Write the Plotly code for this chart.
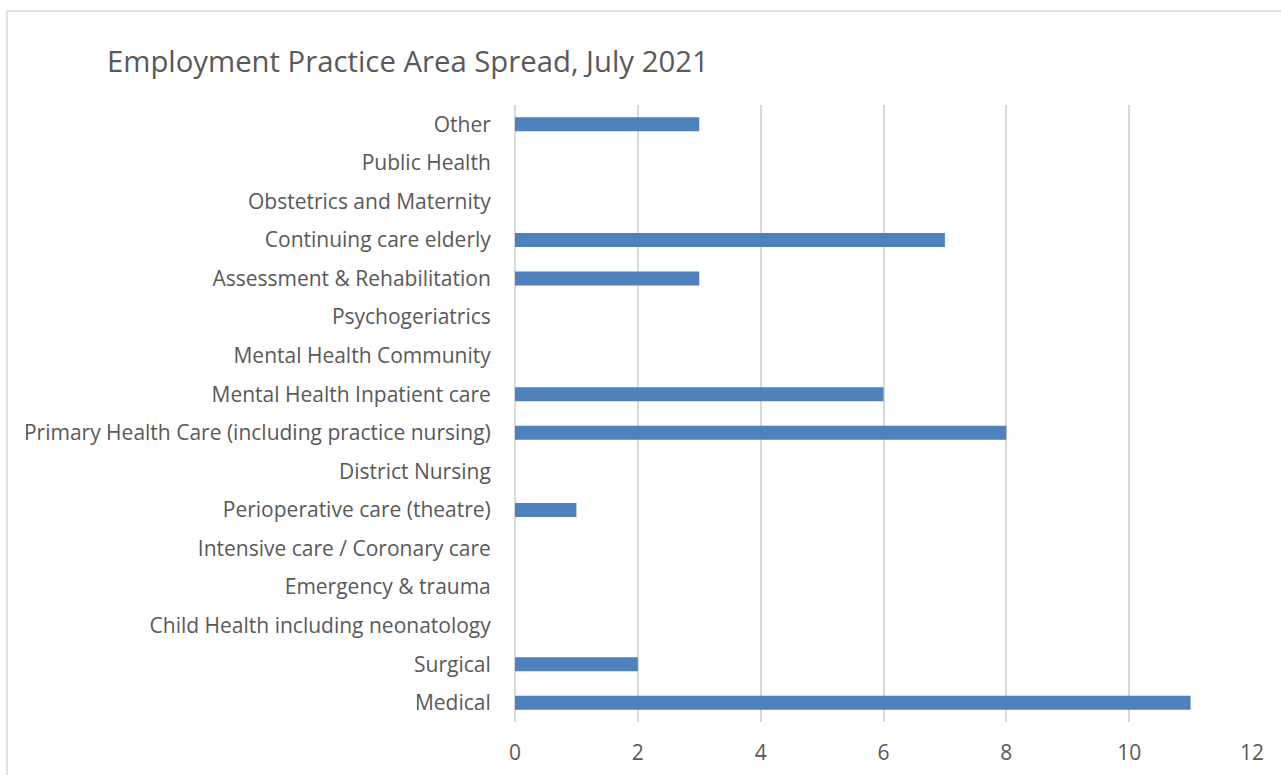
import plotly.graph_objects as go

categories = [
    "Medical",
    "Surgical",
    "Child Health including neonatology",
    "Emergency & trauma",
    "Intensive care / Coronary care",
    "Perioperative care (theatre)",
    "District Nursing",
    "Primary Health Care (including practice nursing)",
    "Mental Health Inpatient care",
    "Mental Health Community",
    "Psychogeriatrics",
    "Assessment & Rehabilitation",
    "Continuing care elderly",
    "Obstetrics and Maternity",
    "Public Health",
    "Other",
]
values = [11, 2, 0, 0, 0, 1, 0, 8, 6, 0, 0, 3, 7, 0, 0, 3]
x_ticks = [0, 2, 4, 6, 8, 10, 12]
title_text = "Employment Practice Area Spread, July 2021"

W, H = 1281, 775
L, R, T, B = 515, 29, 105, 53
pw, ph = W - L - R, H - T - B

FONT = "Open Sans"
GRAY = "#595959"
GRID = "#D9D9D9"

fig = go.Figure(
    go.Bar(
        x=values,
        y=categories,
        orientation="h",
        marker=dict(color="#4F81BD", line=dict(width=0)),
        hoverinfo="x+y",
    )
)

def px_x(p):
    return (p - L) / pw

def px_y(p):
    return (H - B - p) / ph

fig.update_layout(
    width=W,
    height=H,
    margin=dict(l=L, r=R, t=T, b=B, pad=0),
    paper_bgcolor="white",
    plot_bgcolor="white",
    bargap=0.636,
    showlegend=False,
    title=dict(
        text=title_text,
        x=107 / W,
        xanchor="left",
        y=1 - 62 / H,
        yanchor="middle",
        font=dict(family=FONT, size=29.3, color=GRAY),
    ),
    font=dict(family=FONT, size=21, color=GRAY),
    shapes=[
        dict(
            type="rect",
            xref="paper",
            yref="paper",
            x0=px_x(7),
            x1=px_x(1300),
            y0=px_y(800),
            y1=px_y(11),
            line=dict(color="#D9D9D9", width=1.5),
            fillcolor="rgba(0,0,0,0)",
            layer="below",
        )
    ],
)

fig.update_xaxes(
    range=[0, 12],
    tickvals=x_ticks,
    showgrid=True,
    gridcolor=GRID,
    gridwidth=1.5,
    zeroline=True,
    zerolinecolor=GRID,
    zerolinewidth=1.5,
    showline=False,
    ticks="outside",
    ticklen=12,
    tickcolor="rgba(0,0,0,0)",
    tickfont=dict(family=FONT, size=21, color=GRAY),
    automargin=False,
    fixedrange=True,
)
fig.update_yaxes(
    categoryorder="array",
    categoryarray=categories,
    showgrid=False,
    zeroline=False,
    showline=False,
    ticks="outside",
    ticklen=19,
    tickcolor="rgba(0,0,0,0)",
    tickfont=dict(family=FONT, size=21, color=GRAY),
    automargin=False,
    fixedrange=True,
)

fig.write_html(
    "out.html",
    config={"displayModeBar": False},
    post_script="document.body.style.margin='0';document.body.style.padding='0';",
)
